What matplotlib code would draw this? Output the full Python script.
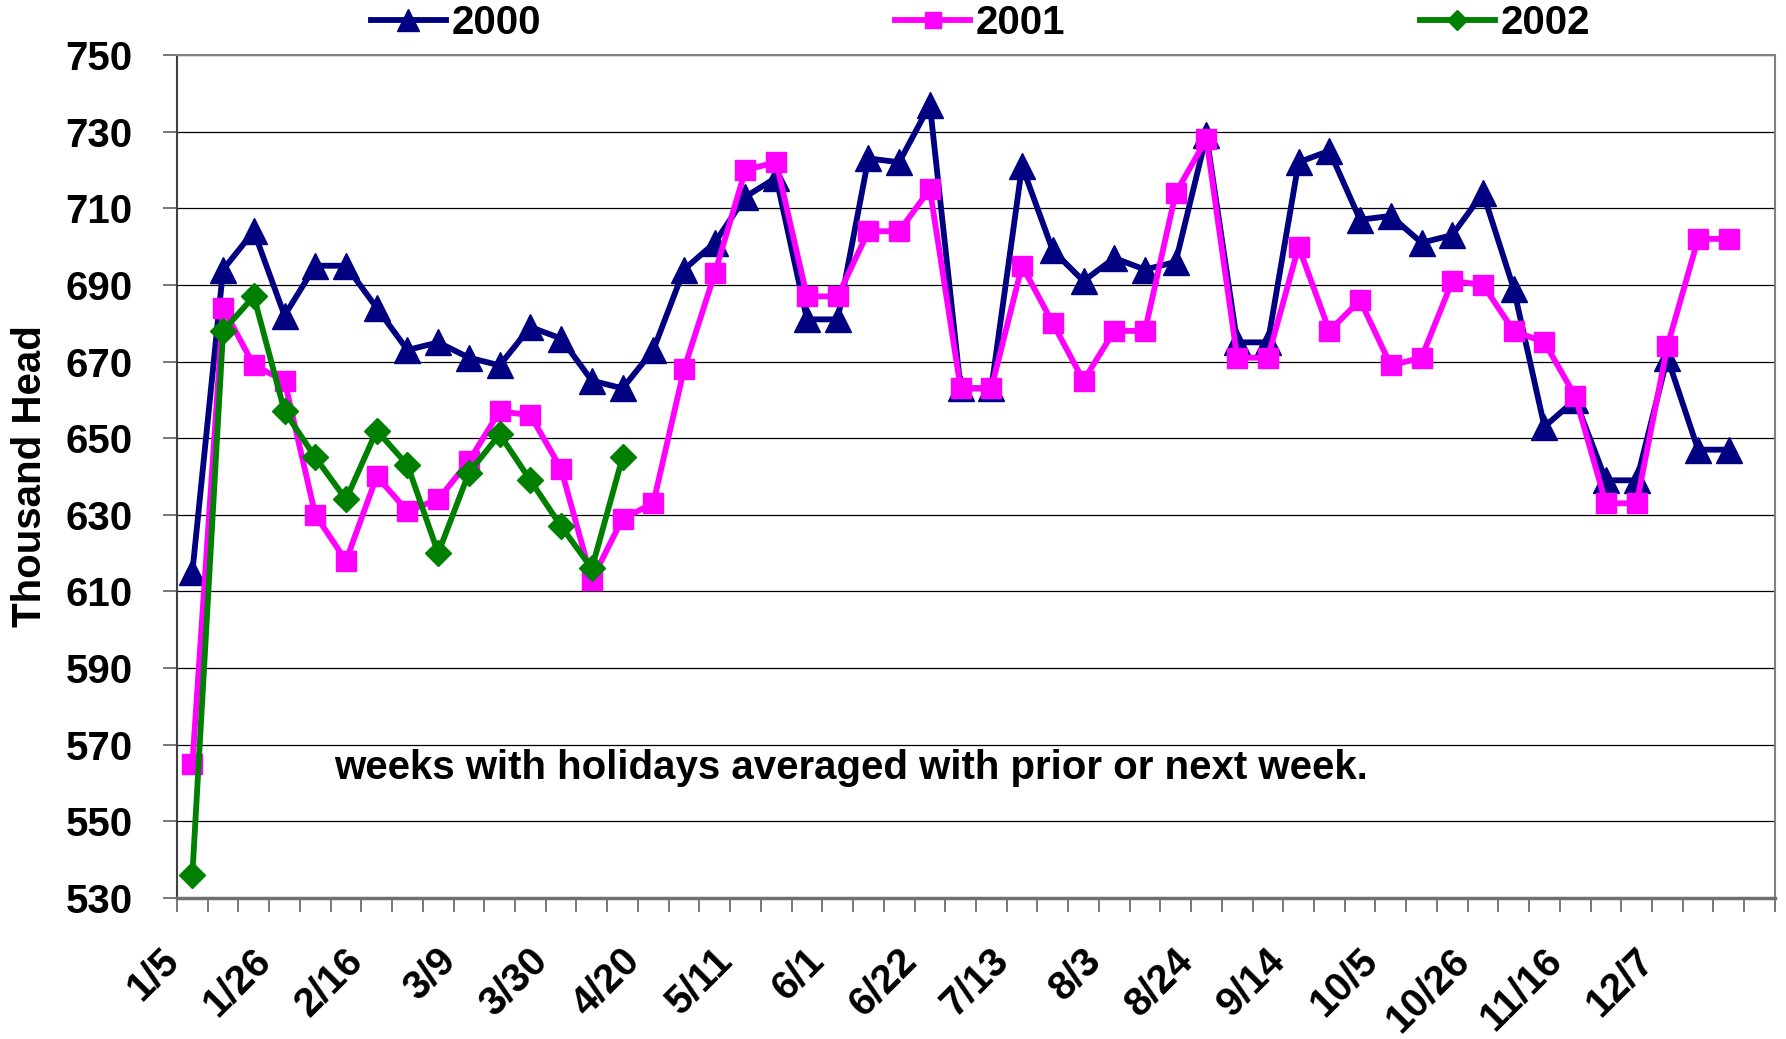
import numpy as np
import matplotlib
matplotlib.use("Agg")
import matplotlib.pyplot as plt
import matplotlib.transforms as mtransforms

# weekly values, thousand head
week_labels = ["1/5", "1/26", "2/16", "3/9", "3/30", "4/20", "5/11", "6/1", "6/22",
               "7/13", "8/3", "8/24", "9/14", "10/5", "10/26", "11/16", "12/7"]
n_weeks = 52

y2000 = [615, 694, 704, 682, 695, 695, 684, 673, 675, 671, 669, 679, 676, 665, 663,
         673, 694, 701, 713, 718, 681, 681, 723, 722, 737, 663, 663, 721, 699, 691,
         697, 694, 696, 729, 675, 675, 722, 725, 707, 708, 701, 703, 714, 689, 653,
         660, 639, 639, 671, 647, 647]
y2001 = [565, 684, 669, 665, 630, 618, 640, 631, 634, 644, 657, 656, 642, 613, 629,
         633, 668, 693, 720, 722, 687, 687, 704, 704, 715, 663, 663, 695, 680, 665,
         678, 678, 714, 728, 671, 671, 700, 678, 686, 669, 671, 691, 690, 678, 675,
         661, 633, 633, 674, 702, 702]
y2002 = [536, 678, 687, 657, 645, 634, 652, 643, 620, 641, 651, 639, 627, 616, 645]

series = [("2000", y2000, "#000080", "^", 19),
          ("2001", y2001, "#FF00FF", "s", 14),
          ("2002", y2002, "#008000", "D", 13)]

plt.rcParams["font.family"] = ["Liberation Sans", "DejaVu Sans"]
plt.rcParams["font.weight"] = "bold"

fig = plt.figure(figsize=(17.86, 10.39), dpi=100)
ax = fig.add_axes([0.0991, 0.1357, 0.8947, 0.8114])

for name, vals, col, mk, ms in series:
    x = np.arange(len(vals)) + 0.5
    ax.plot(x, vals, color=col, lw=4.2, marker=mk, ms=ms, mfc=col, mec=col,
            label=name, clip_on=False, zorder=3)

ax.set_xlim(0, n_weeks)
ax.set_ylim(530, 750)
ax.set_yticks(np.arange(530, 751, 20))
ax.yaxis.grid(True, color="black", lw=0.9)
ax.set_axisbelow(True)

# tick marks on week boundaries, labels every third week (placed by hand)
ax.set_xticks(np.arange(0, n_weeks + 1))
ax.set_xticklabels([])
ax.tick_params(axis="x", length=10, width=1.2, color="#606060")
lab_tr = (mtransforms.blended_transform_factory(ax.transData, ax.transAxes)
          + mtransforms.ScaledTranslation(-0.33, -0.43, fig.dpi_scale_trans))
for i, lab in enumerate(week_labels):
    ax.text(3 * i + 0.5, 0, lab, transform=lab_tr, rotation=45, ha="right",
            va="top", rotation_mode="anchor", fontsize=29, fontweight="bold",
            clip_on=False)

ax.tick_params(axis="y", length=10, width=1.2, color="#606060", labelsize=29, pad=22)
for lbl in ax.get_yticklabels():
    lbl.set_fontweight("bold")

for side in ("top", "right"):
    ax.spines[side].set_color("#808080")
    ax.spines[side].set_linewidth(1.5)
ax.spines["left"].set_color("#404040")
ax.spines["left"].set_linewidth(1.5)
ax.spines["bottom"].set_color("#707070")
ax.spines["bottom"].set_linewidth(2.5)

ax.set_ylabel("Thousand Head", fontsize=29, fontweight="bold", labelpad=12)

ax.text(5.1, 564, "weeks with holidays averaged with prior or next week.",
        fontsize=29, fontweight="bold", va="center", ha="left")

fig.legend(loc="center", bbox_to_anchor=(0.549, 0.978), ncol=3, frameon=False,
           fontsize=29, handlelength=1.85, handletextpad=0.15, columnspacing=8.8,
           markerscale=0.8, borderpad=0)

fig.savefig("out.png", dpi=100)
